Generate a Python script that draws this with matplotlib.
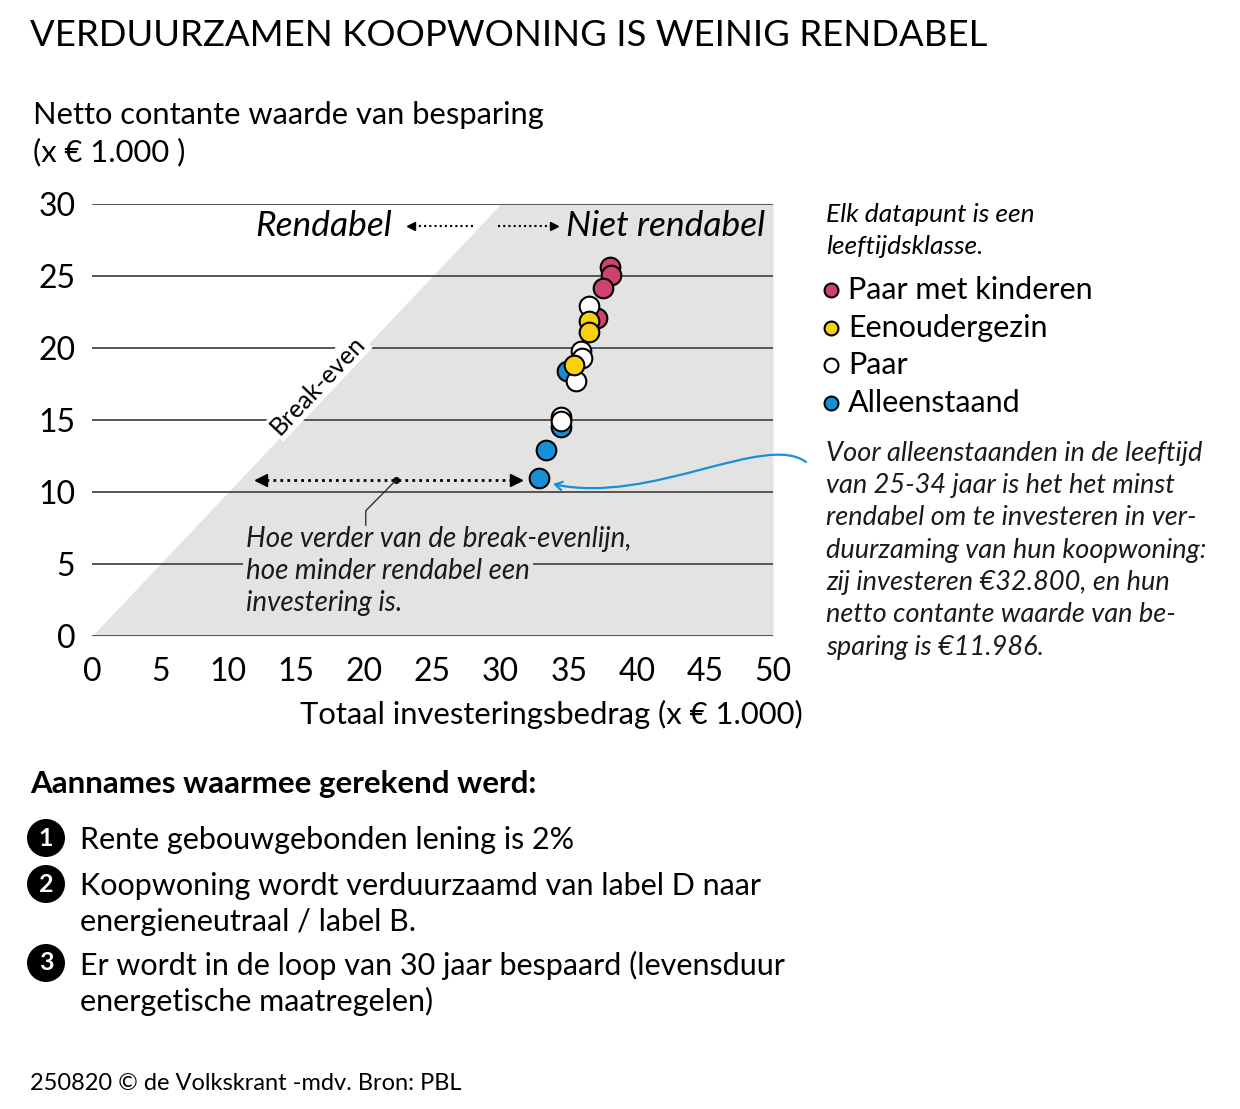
import numpy as np
import matplotlib.pyplot as plt
from matplotlib.path import Path
from matplotlib.patches import FancyArrowPatch

plt.rcParams['font.family'] = ['Lato', 'DejaVu Sans']

# data (x = totaal investeringsbedrag, y = netto contante waarde besparing, x 1000 euro)
paar_kind_x = [38.0, 38.1, 37.5, 37.1]
paar_kind_y = [25.6, 25.1, 24.2, 22.1]
eenouder_x = [36.5, 36.5, 35.4]
eenouder_y = [21.9, 21.1, 18.8]
paar_x = [36.5, 35.9, 36.0, 35.5, 34.4, 34.4]
paar_y = [22.9, 19.8, 19.3, 17.7, 15.2, 14.9]
alleen_x = [34.9, 34.4, 33.3, 32.8]
alleen_y = [18.4, 14.5, 12.9, 11.0]

x_ticks = [0, 5, 10, 15, 20, 25, 30, 35, 40, 45, 50]
y_ticks = [0, 5, 10, 15, 20, 25, 30]

groups = ["Paar met kinderen", "Eenoudergezin", "Paar", "Alleenstaand"]
colors = ["#d0416c", "#f7d10a", "#ffffff", "#1a8fd3"]

W, H = 1240, 1109
fig = plt.figure(figsize=(W/100, H/100), dpi=100)

def fx(px):
    return px / W

def fy(py):
    return 1 - py / H

ax = fig.add_axes([fx(92), fy(636), fx(773) - fx(92), fy(204) - fy(636)])
ax.set_xlim(0, 50)
ax.set_ylim(0, 30)
for s in ax.spines.values():
    s.set_visible(False)
ax.set_xticks(x_ticks)
ax.set_yticks(y_ticks)
ax.tick_params(length=0, labelsize=23, pad=15)
ax.tick_params(axis='y', pad=12)

# gray area: investment larger than savings (not profitable)
ax.fill_between([0, 30, 50], [0, 30, 30], [0, 0, 0], color="#e3e3e3", lw=0, zorder=0)
for yv in y_ticks:
    ax.axhline(yv, color="#4a4a4a", lw=1.3, zorder=1)

# points
order = [(alleen_x, alleen_y, 3), (paar_kind_x, paar_kind_y, 0),
         (paar_x, paar_y, 2), (eenouder_x, eenouder_y, 1)]
for xs, ys, ci in order:
    ax.scatter(xs, ys, s=200, color=colors[ci], edgecolor="black", linewidth=1.5,
               zorder=5, clip_on=False)

# break-even label
ax.text(16.6, 17.4, "Break-even", rotation=46.5, rotation_mode='anchor',
        ha='center', va='center', fontsize=18,
        bbox=dict(facecolor='white', edgecolor='none', pad=1.5), zorder=3)

# Rendabel / Niet rendabel
ax.text(22.0, 28.5, "Rendabel", style='italic', fontsize=25.5, ha='right', va='center')
ax.text(34.8, 28.5, "Niet rendabel", style='italic', fontsize=25.5, ha='left', va='center')
ax.plot([28.0, 23.6], [28.5, 28.5], color='black', ls=(0, (1, 1.5)), lw=1.5)
ax.plot([23.4], [28.5], marker='<', color='black', ms=6)
ax.plot([29.8, 33.7], [28.5, 28.5], color='black', ls=(0, (1, 1.5)), lw=1.5)
ax.plot([33.9], [28.5], marker='>', color='black', ms=6)

# distance arrow
ax.plot([12.8, 30.7], [10.8, 10.8], color='black', ls=(0, (1, 1.5)), lw=2, zorder=3)
ax.plot([12.4], [10.8], marker='<', color='black', ms=8, zorder=3)
ax.plot([31.1], [10.8], marker='>', color='black', ms=8, zorder=3)
ax.plot([22.3], [10.8], marker='o', color='black', ms=4, zorder=3)
ax.plot([22.3, 20.1, 20.1], [10.8, 8.7, 7.7], color='#333333', lw=1, zorder=3)

fig.text(fx(246), fy(539), "Hoe verder van de break-evenlijn,", style='italic',
         fontsize=20, va='center', color='#1a1a1a')
fig.text(fx(246), fy(571), "hoe minder rendabel een", style='italic',
         fontsize=20, va='center', color='#1a1a1a',
         bbox=dict(facecolor='#e3e3e3', edgecolor='none', pad=2))
fig.text(fx(246), fy(603), "investering is.", style='italic',
         fontsize=20, va='center', color='#1a1a1a')

# titles and axis labels
fig.text(fx(30), fy(35), "VERDUURZAMEN KOOPWONING IS WEINIG RENDABEL",
         fontsize=26.3, fontweight='normal', va='center')
fig.text(fx(33), fy(115), "Netto contante waarde van besparing", fontsize=22.2, va='center')
fig.text(fx(33), fy(152), "(x € 1.000 )", fontsize=22.2, va='center')
fig.text(fx(803), fy(714), "Totaal investeringsbedrag (x € 1.000)", fontsize=22.3,
         va='center', ha='right')

# legend
fig.text(fx(826), fy(214), "Elk datapunt is een", style='italic', fontsize=19, va='center')
fig.text(fx(826), fy(246), "leeftijdsklasse.", style='italic', fontsize=19, va='center')
for i, (g, c) in enumerate(zip(groups, colors)):
    yy = 290 + i * 37.7
    fig.add_artist(plt.Line2D([fx(831)], [fy(yy)], marker='o', ms=10, color=c,
                              markeredgecolor='black', markeredgewidth=1.5))
    fig.text(fx(848), fy(yy), g, fontsize=22, va='center')

note = ["Voor alleenstaanden in de leeftijd",
        "van 25-34 jaar is het het minst",
        "rendabel om te investeren in ver-",
        "duurzaming van hun koopwoning:",
        "zij investeren €32.800, en hun",
        "netto contante waarde van be-",
        "sparing is €11.986."]
for i, line in enumerate(note):
    fig.text(fx(826), fy(453 + i * 32.4), line, style='italic', fontsize=19.5,
             va='center', color='#1a1a1a')

# blue curved pointer
pts = [(806, 462), (765, 432), (650, 505), (553, 484)]
verts = [(fx(a), fy(b)) for a, b in pts]
path = Path(verts, [Path.MOVETO, Path.CURVE4, Path.CURVE4, Path.CURVE4])
arr = FancyArrowPatch(path=path, arrowstyle='->,head_length=5,head_width=3',
                      color='#1a8fd3', lw=1.6, transform=fig.transFigure)
fig.add_artist(arr)

# assumptions
fig.text(fx(30), fy(784), "Aannames waarmee gerekend werd:", fontsize=22.5,
         fontweight='bold', va='center')
items = [("1", ["Rente gebouwgebonden lening is 2%"], 840),
         ("2", ["Koopwoning wordt verduurzaamd van label D naar",
                "energieneutraal / label B."], 886),
         ("3", ["Er wordt in de loop van 30 jaar bespaard (levensduur",
                "energetische maatregelen)"], 965)]
for num, lines, y0 in items:
    fig.text(fx(46), fy(y0 - 2), num, fontsize=18, fontweight='bold', color='white',
             ha='center', va='center',
             bbox=dict(boxstyle='circle,pad=0.3', facecolor='black', edgecolor='none'))
    for j, line in enumerate(lines):
        fig.text(fx(80), fy(y0 + j * 36), line, fontsize=22, va='center')

fig.text(fx(30), fy(1083), "250820 © de Volkskrant -mdv. Bron: PBL", fontsize=17, va='center')

fig.savefig("out.png", dpi=100)
